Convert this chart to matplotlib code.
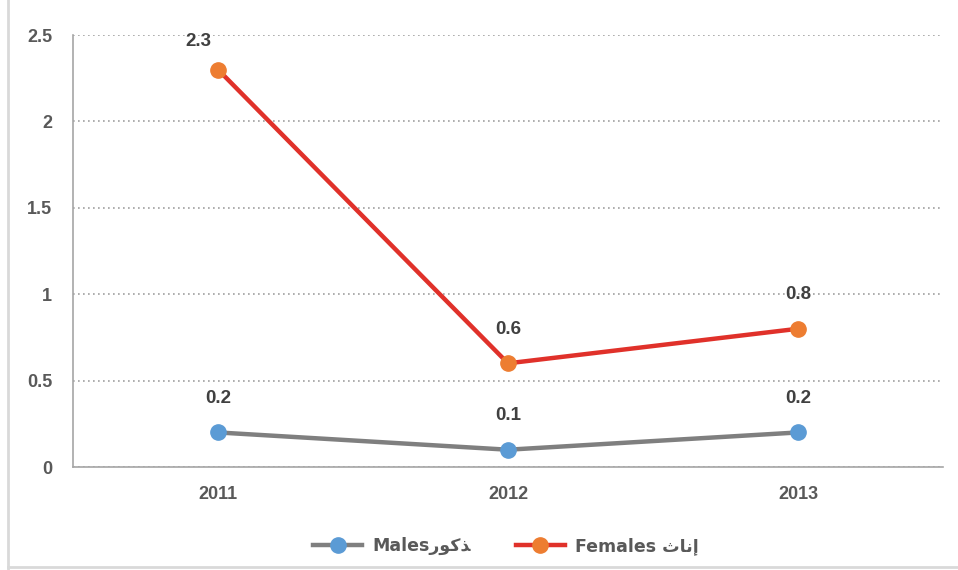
import matplotlib
matplotlib.use("Agg")
import matplotlib.pyplot as plt
from matplotlib.lines import Line2D

years = ["2011", "2012", "2013"]
males = [0.2, 0.1, 0.2]
females = [2.3, 0.6, 0.8]
male_label = "Males" + "\uFEAD\uFEEE\uFEDB\uFEAC"
female_label = "Females " + "\uFE99\uFE8E\uFEE7\uFE87"
yticks = [0, 0.5, 1, 1.5, 2, 2.5]
ytick_labels = ["0", "0.5", "1", "1.5", "2", "2.5"]

plt.rcParams['font.family'] = ['Liberation Sans', 'DejaVu Sans']
txt = '#595959'
lab_col = '#404040'

fig = plt.figure(figsize=(9.58, 5.70), dpi=100)
ax = fig.add_axes([73/958, 1-467/570, 870/958, 432/570])

x = list(range(len(years)))
ax.plot(x, males, color='#7f7f7f', lw=3.2, marker='o', ms=11,
        mfc='#5b9bd5', mec='#5b9bd5', label=male_label, zorder=3)
ax.plot(x, females, color='#e0312a', lw=3.2, marker='o', ms=11,
        mfc='#ed7d31', mec='#ed7d31', label=female_label, zorder=3)

for xi, v in zip(x, males):
    ax.annotate(f"{v:g}", (xi, v), xytext=(0, 24.5), textcoords='offset points',
                ha='center', va='center', fontsize=13.5, fontweight='bold', color=lab_col)
for i, (xi, v) in enumerate(zip(x, females)):
    dx, dy = ((-14.4, 20) if i == 0 else (0, 24.5))
    ax.annotate(f"{v:g}", (xi, v), xytext=(dx, dy), textcoords='offset points',
                ha='center', va='center', fontsize=13.5, fontweight='bold', color=lab_col)

ax.set_xlim(-0.5, 2.5)
ax.set_ylim(0, 2.5)
ax.set_xticks(x)
ax.set_xticklabels(years)
ax.set_yticks(yticks)
ax.set_yticklabels(ytick_labels)
ax.tick_params(length=0, labelsize=13, colors=txt)
ax.tick_params(axis='x', pad=14)
ax.tick_params(axis='y', pad=15)
for lab in ax.get_xticklabels() + ax.get_yticklabels():
    lab.set_fontweight('bold')
ax.yaxis.grid(True, linestyle=(0, (1, 2)), color='#a0a0a0', lw=1.2)
ax.set_axisbelow(True)
for s in ['top', 'right']:
    ax.spines[s].set_visible(False)
for s in ['left', 'bottom']:
    ax.spines[s].set_color('#a6a6a6')
    ax.spines[s].set_linewidth(1.2)

leg = fig.legend(loc='center', bbox_to_anchor=(506/958, 1-546/570), ncol=2,
                 frameon=False, fontsize=12.5, handlelength=2.8, columnspacing=2.6,
                 handletextpad=0.6)
for t in leg.get_texts():
    t.set_fontweight('bold')
    t.set_color(txt)
    t.set_fontfamily(['DejaVu Sans'])

fig.add_artist(Line2D([8/958, 8/958], [0, 1], transform=fig.transFigure, color='#d9d9d9', lw=2))
fig.add_artist(Line2D([8/958, 1], [3/570, 3/570], transform=fig.transFigure, color='#d9d9d9', lw=2))

fig.savefig("out.png", dpi=100)
